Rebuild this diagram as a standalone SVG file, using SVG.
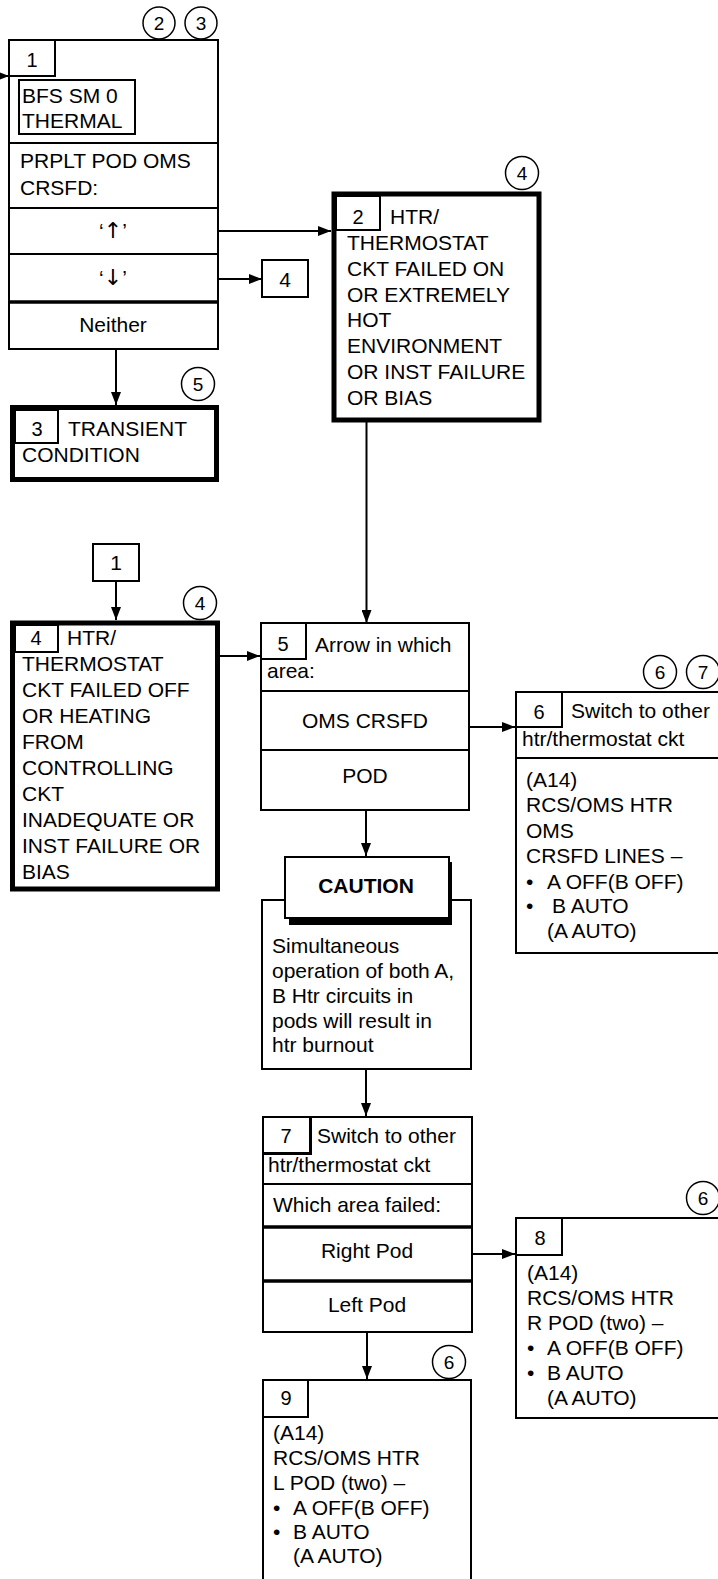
<svg xmlns="http://www.w3.org/2000/svg" width="718" height="1579" viewBox="0 0 718 1579">
<defs>
<style>
text{font-family:"Liberation Sans",Arial,Helvetica,sans-serif;font-size:21px;fill:#000}
.n{font-size:20px}
.c{text-anchor:middle}
.cn{font-size:19px;text-anchor:middle}
.b{font-weight:bold}
.ar{font-family:"DejaVu Sans",sans-serif;font-size:22px}
.box{fill:#fff;stroke:#000;stroke-width:2}
.thick{fill:#fff;stroke:#000;stroke-width:5}
.ln{fill:none;stroke:#000;stroke-width:2}
.ln3{fill:none;stroke:#000;stroke-width:3.5}
.circ{fill:#fff;stroke:#000;stroke-width:1.5}
.con{fill:none;stroke:#000;stroke-width:2;marker-end:url(#ah)}
</style>
<marker id="ah" markerWidth="13" markerHeight="10" refX="13" refY="5" orient="auto" markerUnits="userSpaceOnUse">
<path d="M0,0 L13,5 L0,10 z" fill="#000"/>
</marker>
</defs>
<rect width="718" height="1579" fill="#fff"/>

<g id="connectors">
<line class="con" x1="-2" y1="76" x2="9" y2="76"/>
<line class="con" x1="218" y1="231" x2="331" y2="231"/>
<line class="con" x1="218" y1="279" x2="262" y2="279"/>
<line class="con" x1="116" y1="349" x2="116" y2="405"/>
<line class="con" x1="366.5" y1="422" x2="366.5" y2="623"/>
<line class="con" x1="116" y1="581" x2="116" y2="620"/>
<line class="con" x1="220" y1="656" x2="260" y2="656"/>
<line class="con" x1="469" y1="727" x2="515" y2="727"/>
<line class="con" x1="366" y1="810" x2="366" y2="856"/>
<line class="con" x1="366" y1="1069" x2="366" y2="1116"/>
<line class="con" x1="472" y1="1254" x2="515" y2="1254"/>
<line class="con" x1="367" y1="1332" x2="367" y2="1379"/>
</g>

<g id="node1">
<rect class="box" x="9" y="40" width="209" height="309"/>
<rect class="box" x="9" y="40" width="46" height="36"/>
<text class="n c" x="32" y="67">1</text>
<rect class="box" x="19" y="80" width="116" height="54"/>
<text x="22" y="103">BFS SM 0</text>
<text x="22" y="128">THERMAL</text>
<line class="ln" x1="9" y1="143" x2="218" y2="143"/>
<text x="20" y="168">PRPLT POD OMS</text>
<text x="20" y="195">CRSFD:</text>
<line class="ln" x1="9" y1="208" x2="218" y2="208"/>
<text class="c" x="113" y="238">‘<tspan class="ar">↑</tspan>’</text>
<line class="ln" x1="9" y1="254" x2="218" y2="254"/>
<text class="c" x="113" y="285">‘<tspan class="ar">↓</tspan>’</text>
<line class="ln3" x1="9" y1="302" x2="218" y2="302"/>
<text class="c" x="113" y="332">Neither</text>
<circle class="circ" cx="159" cy="23" r="16"/>
<text class="cn" x="159" y="30">2</text>
<circle class="circ" cx="201" cy="23" r="16"/>
<text class="cn" x="201" y="30">3</text>
</g>

<g id="goto4a">
<rect class="box" x="262" y="260" width="46" height="37"/>
<text class="c" x="285" y="287">4</text>
</g>

<g id="node2">
<rect class="thick" x="334" y="194" width="205" height="226"/>
<rect class="box" x="336" y="196" width="44" height="34"/>
<text class="n c" x="358" y="224">2</text>
<text x="390" y="224">HTR/</text>
<text x="347" y="250">THERMOSTAT</text>
<text x="347" y="276">CKT FAILED ON</text>
<text x="347" y="302">OR EXTREMELY</text>
<text x="347" y="327">HOT</text>
<text x="347" y="353">ENVIRONMENT</text>
<text x="347" y="379">OR INST FAILURE</text>
<text x="347" y="405">OR BIAS</text>
<circle class="circ" cx="522" cy="173" r="16.5"/>
<text class="cn" x="522" y="180">4</text>
</g>

<g id="node3">
<rect class="thick" x="12.5" y="407.5" width="204" height="72"/>
<rect class="box" x="15" y="410" width="43" height="33"/>
<text class="n c" x="37" y="436">3</text>
<text x="68" y="436">TRANSIENT</text>
<text x="22" y="462">CONDITION</text>
<circle class="circ" cx="198" cy="384" r="16.5"/>
<text class="cn" x="198" y="391">5</text>
</g>

<g id="goto1">
<rect class="box" x="93" y="544" width="46" height="37"/>
<text class="c" x="116" y="570">1</text>
</g>

<g id="node4">
<rect class="thick" x="12.5" y="623" width="205" height="266"/>
<rect class="box" x="15" y="625" width="43" height="27"/>
<text class="n c" x="36" y="645">4</text>
<text x="67" y="645">HTR/</text>
<text x="22" y="671">THERMOSTAT</text>
<text x="22" y="697">CKT FAILED OFF</text>
<text x="22" y="723">OR HEATING</text>
<text x="22" y="749">FROM</text>
<text x="22" y="775">CONTROLLING</text>
<text x="22" y="801">CKT</text>
<text x="22" y="827">INADEQUATE OR</text>
<text x="22" y="853">INST FAILURE OR</text>
<text x="22" y="879">BIAS</text>
<circle class="circ" cx="200" cy="603" r="16.5"/>
<text class="cn" x="200" y="610">4</text>
</g>

<g id="node5">
<rect class="box" x="261" y="623" width="208" height="187"/>
<rect class="box" x="261" y="623" width="45" height="36"/>
<text class="n c" x="283" y="651">5</text>
<text x="315" y="652">Arrow in which</text>
<text x="267" y="678">area:</text>
<line class="ln" x1="261" y1="691" x2="469" y2="691"/>
<text class="c" x="365" y="728">OMS CRSFD</text>
<line class="ln" x1="261" y1="750" x2="469" y2="750"/>
<text class="c" x="365" y="783">POD</text>
</g>

<g id="node6">
<rect class="box" x="516" y="692" width="212" height="261"/>
<rect class="box" x="516" y="692" width="46" height="35"/>
<text class="n c" x="539" y="719">6</text>
<text x="571" y="718">Switch to other</text>
<text x="522" y="746">htr/thermostat ckt</text>
<line class="ln" x1="516" y1="758" x2="718" y2="758"/>
<text x="526" y="787">(A14)</text>
<text x="526" y="812">RCS/OMS HTR</text>
<text x="526" y="838">OMS</text>
<text x="526" y="863">CRSFD LINES –</text>
<text x="526" y="889">•</text>
<text x="547" y="889">A OFF(B OFF)</text>
<text x="526" y="913">•</text>
<text x="552" y="913">B AUTO</text>
<text x="547" y="938">(A AUTO)</text>
<circle class="circ" cx="660" cy="672" r="16.5"/>
<text class="cn" x="660" y="679">6</text>
<circle class="circ" cx="703" cy="672" r="16.5"/>
<text class="cn" x="703" y="679">7</text>
</g>

<g id="caution">
<rect class="box" x="262" y="900" width="209" height="169"/>
<rect x="289" y="862" width="163" height="63" fill="#000"/>
<rect class="box" x="285" y="857" width="164" height="61"/>
<text class="b c" x="366" y="893">CAUTION</text>
<text x="272" y="953">Simultaneous</text>
<text x="272" y="978">operation of both A,</text>
<text x="272" y="1003">B Htr circuits in</text>
<text x="272" y="1028">pods will result in</text>
<text x="272" y="1052">htr burnout</text>
</g>

<g id="node7">
<rect class="box" x="263" y="1117" width="209" height="215"/>
<rect class="box" x="263" y="1117" width="47" height="36"/>
<line class="ln" x1="311" y1="1117" x2="311" y2="1155" stroke-width="3"/>
<line class="ln" x1="263" y1="1154" x2="312" y2="1154" stroke-width="3"/>
<text class="n c" x="286" y="1143">7</text>
<text x="317" y="1143">Switch to other</text>
<text x="268" y="1172">htr/thermostat ckt</text>
<line class="ln" x1="263" y1="1184" x2="472" y2="1184"/>
<text x="273" y="1212">Which area failed:</text>
<line class="ln3" x1="263" y1="1227" x2="472" y2="1227"/>
<text class="c" x="367" y="1258">Right Pod</text>
<line class="ln3" x1="263" y1="1281" x2="472" y2="1281"/>
<text class="c" x="367" y="1312">Left Pod</text>
</g>

<g id="node8">
<rect class="box" x="516" y="1218" width="212" height="200"/>
<rect class="box" x="516" y="1218" width="46" height="37"/>
<text class="n c" x="540" y="1245">8</text>
<text x="527" y="1280">(A14)</text>
<text x="527" y="1305">RCS/OMS HTR</text>
<text x="527" y="1330">R POD (two) –</text>
<text x="527" y="1355">•</text>
<text x="547" y="1355">A OFF(B OFF)</text>
<text x="527" y="1380">•</text>
<text x="547" y="1380">B AUTO</text>
<text x="547" y="1405">(A AUTO)</text>
<circle class="circ" cx="703" cy="1198" r="16.5"/>
<text class="cn" x="703" y="1205">6</text>
</g>

<g id="node9">
<rect class="box" x="263" y="1380" width="208" height="220"/>
<rect class="box" x="263" y="1380" width="45" height="37"/>
<text class="n c" x="286" y="1405">9</text>
<text x="273" y="1440">(A14)</text>
<text x="273" y="1465">RCS/OMS HTR</text>
<text x="273" y="1490">L POD (two) –</text>
<text x="273" y="1515">•</text>
<text x="293" y="1515">A OFF(B OFF)</text>
<text x="273" y="1539">•</text>
<text x="293" y="1539">B AUTO</text>
<text x="293" y="1563">(A AUTO)</text>
<circle class="circ" cx="449" cy="1362" r="16.5"/>
<text class="cn" x="449" y="1369">6</text>
</g>
</svg>
